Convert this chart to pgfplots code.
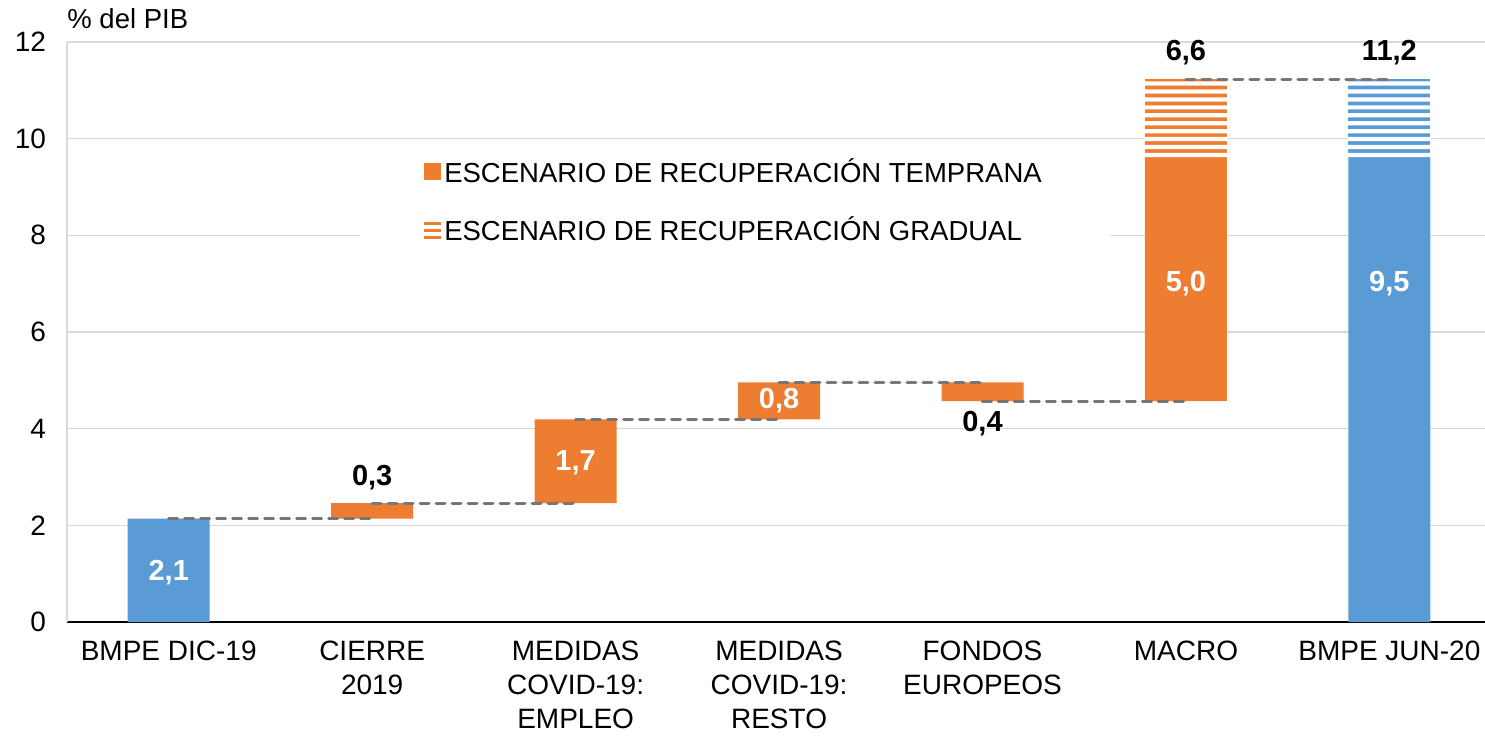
\documentclass[border=0pt]{standalone}
\usepackage{fontspec}
\setmainfont{Liberation Sans}
\usepackage{pgfplots}
\pgfplotsset{compat=1.18}
\definecolor{cblue}{HTML}{5B9BD5}
\definecolor{corange}{HTML}{ED7D31}
\definecolor{cgrid}{HTML}{D9D9D9}
\definecolor{cdash}{HTML}{767676}
\pgfplotsset{
  common/.style={
    scale only axis, width=709pt, height=290pt,
    xmin=-0.5, xmax=6.47, ymin=0, ymax=12,
    enlargelimits=false,
  },
  conn/.style={cdash, line width=1.6pt, dash pattern=on 4.4pt off 3.6pt, line cap=round, mark=none, forget plot},
  gap/.style={draw=none, fill=white, forget plot},
  stripe/.style={draw=none, fill=none, forget plot},
}
\begin{document}
\begin{tikzpicture}
% ---- bars ----
\begin{axis}[common,
  ybar stacked, bar width=41pt,
  ytick={0,2,...,12},
  xtick={0,1,2,3,4,5,6},
  xticklabels={BMPE DIC-19, CIERRE\\2019, MEDIDAS\\COVID-19:\\EMPLEO, MEDIDAS\\COVID-19:\\RESTO, FONDOS\\EUROPEOS, MACRO, BMPE JUN-20},
  xticklabel style={align=center, font=\fontsize{14}{17}\selectfont, yshift=-8.5pt, inner sep=1pt},
  yticklabel style={font=\fontsize{14}{16}\selectfont, xshift=-7pt},
  /pgf/number format/assume math mode=true,
  ymajorgrids, grid style={cgrid, line width=0.8pt},
  axis x line*=bottom, axis y line*=left,
  x axis line style={black, line width=1pt, -},
  y axis line style={cgrid, line width=0.8pt, -},
  major tick length=0pt,
]
% invisible base
\addplot[draw=none, fill=none] coordinates {(0,0)(1,2.14)(2,2.46)(3,4.19)(4,4.57)(5,4.57)(6,0)};
% blue totals (early-recovery part)
\addplot[draw=none, fill=cblue] coordinates {(0,2.14)(1,0)(2,0)(3,0)(4,0)(5,0)(6,9.62)};
% orange changes
\addplot[draw=none, fill=corange] coordinates {(0,0)(1,0.32)(2,1.73)(3,0.77)(4,0.39)(5,5.05)(6,0)};
% gradual scenario extra (striped below)
\addplot[draw=none, fill=corange] coordinates {(0,0)(1,0)(2,0)(3,0)(4,0)(5,1.61)(6,0)};
\addplot[draw=none, fill=cblue] coordinates {(0,0)(1,0)(2,0)(3,0)(4,0)(5,0)(6,1.61)};
\end{axis}
% ---- white gaps giving the horizontal stripes ----
\begin{axis}[common, hide axis, ybar stacked, bar width=41.6pt]
\addplot[stripe] coordinates {(5,9.62)(6,9.62)};
\addplot[gap] coordinates {(5,0.087)(6,0.087)};
\addplot[stripe] coordinates {(5,0.077)(6,0.077)};
\addplot[gap] coordinates {(5,0.087)(6,0.087)};
\addplot[stripe] coordinates {(5,0.077)(6,0.077)};
\addplot[gap] coordinates {(5,0.087)(6,0.087)};
\addplot[stripe] coordinates {(5,0.077)(6,0.077)};
\addplot[gap] coordinates {(5,0.087)(6,0.087)};
\addplot[stripe] coordinates {(5,0.077)(6,0.077)};
\addplot[gap] coordinates {(5,0.087)(6,0.087)};
\addplot[stripe] coordinates {(5,0.077)(6,0.077)};
\addplot[gap] coordinates {(5,0.087)(6,0.087)};
\addplot[stripe] coordinates {(5,0.077)(6,0.077)};
\addplot[gap] coordinates {(5,0.087)(6,0.087)};
\addplot[stripe] coordinates {(5,0.077)(6,0.077)};
\addplot[gap] coordinates {(5,0.087)(6,0.087)};
\addplot[stripe] coordinates {(5,0.077)(6,0.077)};
\addplot[gap] coordinates {(5,0.087)(6,0.087)};
\addplot[stripe] coordinates {(5,0.077)(6,0.077)};
\addplot[gap] coordinates {(5,0.087)(6,0.087)};
\end{axis}
% ---- connectors, labels, legend ----
\begin{axis}[common, hide axis, clip=false,
  legend cell align=left,
  legend style={at={(rel axis cs:0.206,0.828)}, anchor=north west, draw=none, fill=white,
    font=\fontsize{13.75}{16}\selectfont, inner xsep=32pt, inner ysep=6pt,
    row sep=12pt},
]
\addlegendimage{legend image code/.code={\fill[corange] (0pt,-4pt) rectangle (8pt,4pt);}}
\addlegendentry{ESCENARIO DE RECUPERACIÓN TEMPRANA}
\addlegendimage{legend image code/.code={
   \fill[corange] (0pt,3pt) rectangle (8pt,4.1pt);
   \fill[corange] (0pt,-0.6pt) rectangle (8pt,0.6pt);
   \fill[corange] (0pt,-4.2pt) rectangle (8pt,-3pt);}}
\addlegendentry{ESCENARIO DE RECUPERACIÓN GRADUAL}
\addplot[conn] coordinates {(0,2.14)(1,2.14)};
\addplot[conn] coordinates {(1,2.46)(2,2.46)};
\addplot[conn] coordinates {(2,4.19)(3,4.19)};
\addplot[conn] coordinates {(3,4.96)(4,4.96)};
\addplot[conn] coordinates {(4,4.57)(5,4.57)};
\addplot[conn] coordinates {(5,11.23)(6,11.23)};
\tikzset{lbl/.style={font=\bfseries\fontsize{14.5}{16}\selectfont, inner sep=0pt}}
\node[lbl, white] at (axis cs:0,1.03) {2,1};
\node[lbl] at (axis cs:1,2.98) {0,3};
\node[lbl, white] at (axis cs:2,3.29) {1,7};
\node[lbl, white] at (axis cs:3,4.59) {0,8};
\node[lbl] at (axis cs:4,4.10) {0,4};
\node[lbl, white] at (axis cs:5,7.01) {5,0};
\node[lbl] at (axis cs:5,11.78) {6,6};
\node[lbl, white] at (axis cs:6,7.01) {9,5};
\node[lbl] at (axis cs:6,11.78) {11,2};
\node[anchor=base west, inner sep=0pt, font=\fontsize{13.75}{16}\selectfont] at ([yshift=7pt]rel axis cs:0,1) {\% del PIB};
\end{axis}
\pgfresetboundingbox
\path ([shift={(-33.5pt,-59pt)}]current axis.south west) rectangle ([shift={(0pt,21pt)}]current axis.north east);
\end{tikzpicture}
\end{document}
